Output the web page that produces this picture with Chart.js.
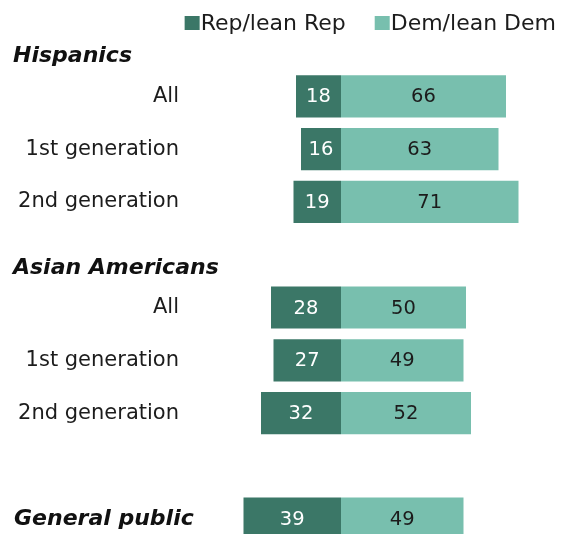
<!DOCTYPE html>
<html><head><meta charset="utf-8">
<script src="https://cdn.jsdelivr.net/npm/chart.js@4.4.1/dist/chart.umd.min.js"></script>
<style>
html,body{margin:0;padding:0;background:#fff;overflow:hidden}
#wrap{width:561px;height:534px;overflow:hidden;position:relative}
canvas{display:block}
</style></head><body>
<div id="wrap"><canvas id="c" width="561" height="545"></canvas></div>
<script>
// ---- data ----
const rowLabels = ["All", "1st generation", "2nd generation", "", "All", "1st generation", "2nd generation", "", "General public"];
const groupHeaders = ["Hispanics", "Asian Americans"];
const groupStartRows = [0, 4];
const summaryLabel = "General public";
const repValues = [18, 16, 19, null, 28, 27, 32, null, 39];
const demValues = [66, 63, 71, null, 50, 49, 52, null, 49];
const seriesNames = ["Rep/lean Rep", "Dem/lean Dem"];

// ---- style ----
const FONT = "'DejaVu Sans', Verdana, sans-serif";
const REP_COLOR = "#3b7767";
const DEM_COLOR = "#78bfae";
const TEXT_COLOR = "#1c1c1c";

const headersPlugin = {
  id: 'headers',
  afterDraw(chart) {
    const ctx = chart.ctx, y = chart.scales.y;
    ctx.save();
    ctx.fillStyle = "#111";
    ctx.font = `italic bold 22px ${FONT}`;
    ctx.textAlign = 'left';
    ctx.textBaseline = 'alphabetic';
    groupHeaders.forEach((h, i) => {
      ctx.fillText(h, 13, y.getPixelForValue(groupStartRows[i]) - 34);
    });
    const si = rowLabels.indexOf(summaryLabel);
    ctx.fillText(summaryLabel, 14, y.getPixelForValue(si) + 6);
    ctx.restore();
  }
};

const legendPlugin = {
  id: 'customLegend',
  afterDraw(chart) {
    const ctx = chart.ctx;
    ctx.save();
    ctx.font = `22px ${FONT}`;
    ctx.textBaseline = 'alphabetic';
    ctx.textAlign = 'left';
    let x = 556;
    const ds = chart.data.datasets;
    for (let i = ds.length - 1; i >= 0; i--) {
      const t = ds[i].label;
      const w = ctx.measureText(t).width;
      const tx = x - w;
      ctx.fillStyle = TEXT_COLOR;
      ctx.fillText(t, tx, 30);
      const bx = tx - 1 - 15;
      ctx.fillStyle = ds[i].backgroundColor;
      ctx.fillRect(bx, 16, 15, 14);
      x = bx - 29;
    }
    ctx.restore();
  }
};

const valueLabels = {
  id: 'valueLabels',
  afterDatasetsDraw(chart) {
    const ctx = chart.ctx;
    ctx.save();
    ctx.font = `19.5px ${FONT}`;
    ctx.textAlign = 'center';
    ctx.textBaseline = 'middle';
    chart.data.datasets.forEach((ds, di) => {
      const meta = chart.getDatasetMeta(di);
      meta.data.forEach((el, i) => {
        const v = ds.data[i];
        if (v === null || v === undefined) return;
        ctx.fillStyle = di === 0 ? '#ffffff' : TEXT_COLOR;
        ctx.fillText(String(Math.abs(v)), (el.x + el.base) / 2, el.y + 1);
      });
    });
    ctx.restore();
  }
};

new Chart(document.getElementById('c'), {
  type: 'bar',
  data: {
    labels: rowLabels,
    datasets: [
      { label: seriesNames[0], data: repValues.map(v => v === null ? null : -v), backgroundColor: REP_COLOR, borderWidth: 0 },
      { label: seriesNames[1], data: demValues, backgroundColor: DEM_COLOR, borderWidth: 0 }
    ]
  },
  options: {
    indexAxis: 'y',
    responsive: false,
    devicePixelRatio: 1,
    animation: false,
    barPercentage: 0.8,
    categoryPercentage: 1,
    layout: { padding: { top: 70, left: 0, right: 0, bottom: 0 } },
    plugins: { legend: { display: false }, tooltip: { enabled: false } },
    scales: {
      x: { stacked: true, display: false, min: -62, max: 88 },
      y: {
        stacked: true,
        grid: { display: false, drawTicks: false },
        border: { display: false },
        ticks: {
          autoSkip: false,
          padding: 7,
          color: TEXT_COLOR,
          font: { family: FONT, size: 21 },
          callback: (v, i) => rowLabels[i] === summaryLabel ? '' : rowLabels[i]
        },
        afterFit(s) { s.width = 186; s.paddingTop = 0; s.paddingBottom = 0; }
      }
    }
  },
  plugins: [valueLabels, headersPlugin, legendPlugin]
});
</script>
</body></html>
